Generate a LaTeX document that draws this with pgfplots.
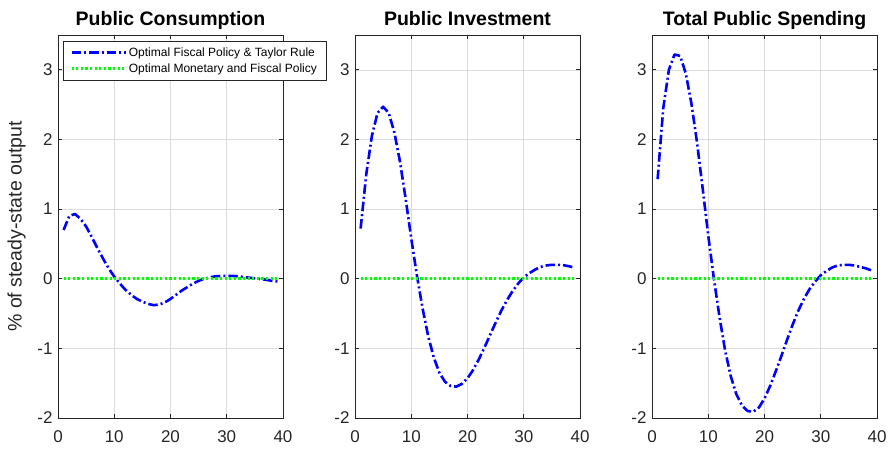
\documentclass[border=0pt]{standalone}
\usepackage{pgfplots}
\usepackage{pgfplotstable}
\pgfplotsset{compat=1.18}
\usepackage{fontspec}
\setmainfont{Liberation Sans}
\definecolor{axgray}{gray}{0.15}
\definecolor{gridgray}{gray}{0.86}
\definecolor{mblue}{rgb}{0,0,1}
\definecolor{mgreen}{rgb}{0,1,0}

\pgfplotstableread{
t C I T
1 0.70 0.72 1.43
2 0.90 1.50 2.45
3 0.93 2.05 3.00
4 0.86 2.38 3.22
5 0.75 2.47 3.20
6 0.60 2.38 2.95
7 0.44 2.10 2.52
8 0.29 1.68 1.96
9 0.15 1.15 1.30
10 0.03 0.58 0.62
11 -0.07 0.05 0.00
12 -0.16 -0.42 -0.55
13 -0.23 -0.82 -1.03
14 -0.29 -1.13 -1.40
15 -0.33 -1.35 -1.66
16 -0.36 -1.48 -1.82
17 -0.38 -1.54 -1.90
18 -0.37 -1.55 -1.91
19 -0.34 -1.51 -1.85
20 -0.29 -1.43 -1.72
21 -0.23 -1.31 -1.54
22 -0.17 -1.16 -1.33
23 -0.12 -0.99 -1.11
24 -0.07 -0.81 -0.88
25 -0.03 -0.63 -0.66
26 0.00 -0.46 -0.46
27 0.02 -0.31 -0.29
28 0.035 -0.18 -0.15
29 0.04 -0.07 -0.04
30 0.04 0.02 0.05
31 0.04 0.08 0.11
32 0.035 0.13 0.16
33 0.025 0.17 0.19
34 0.015 0.19 0.20
35 0.005 0.20 0.20
36 -0.005 0.20 0.19
37 -0.015 0.195 0.17
38 -0.03 0.18 0.15
39 -0.04 0.16 0.12
}\data

\pgfplotsset{
  panel/.style={
    scale only axis, width=225pt, height=383pt,
    xmin=0, xmax=40, ymin=-2, ymax=3.5,
    xtick={0,10,20,30,40}, ytick={-2,-1,0,1,2,3},
    grid=major, major grid style={gridgray, line width=0.6pt},
    axis line style={axgray, line width=0.7pt},
    tick style={axgray, line width=0.7pt},
    tick align=inside, major tick length=4pt,
    xtick pos=both, ytick pos=both,
    xticklabel pos=bottom, yticklabel pos=left,
    /pgf/number format/assume math mode=true,
    tick label style={font=\fontsize{17}{17}\selectfont, text=axgray},
    xticklabel style={yshift=-9pt},
    yticklabel style={xshift=-2pt},
    title style={font=\bfseries\fontsize{19.5}{20}\selectfont, at={(axis description cs:0.5,1)}, anchor=base, yshift=4pt},
    clip=false,
  },
  blueline/.style={mblue, line width=2.6pt, line join=round, dash pattern=on 9.5pt off 3pt on 2pt off 3pt},
  greenline/.style={mgreen, line width=2.5pt, dash pattern=on 2.2pt off 2.4pt},
}

\begin{document}
\begin{tikzpicture}[x=1pt,y=1pt]
\useasboundingbox (0,0) rectangle (889,448);
\begin{axis}[panel, at={(58pt,30pt)}, anchor=south west,
  title={Public Consumption},
  ylabel={\% of steady-state output},
  ylabel style={font=\fontsize{19.5}{20}\selectfont, text=axgray, at={(axis description cs:-0.1844,0.5)}, anchor=center},
  legend style={at={(axis description cs:0.022,0.984)}, anchor=north west,
    font=\fontsize{12}{14}\selectfont, draw=axgray, line width=0.6pt,
    inner xsep=7pt, inner ysep=4pt, row sep=2pt,
    cells={anchor=west}},
  legend image code/.code={\draw[#1] (0pt,0pt) -- (54pt,0pt);},
]
\addplot[blueline] table[x=t,y=C]{\data};
\addlegendentry{Optimal Fiscal Policy \& Taylor Rule}
\addplot[greenline] coordinates {(1,0) (39,0)};
\addlegendentry{Optimal Monetary and Fiscal Policy}
\end{axis}
\begin{axis}[panel, at={(355pt,30pt)}, anchor=south west,
  title={Public Investment}]
\addplot[blueline] table[x=t,y=I]{\data};
\addplot[greenline] coordinates {(1,0) (39,0)};
\end{axis}
\begin{axis}[panel, at={(652pt,30pt)}, anchor=south west,
  title={Total Public Spending}]
\addplot[blueline] table[x=t,y=T]{\data};
\addplot[greenline] coordinates {(1,0) (39,0)};
\end{axis}
\end{tikzpicture}
\end{document}
